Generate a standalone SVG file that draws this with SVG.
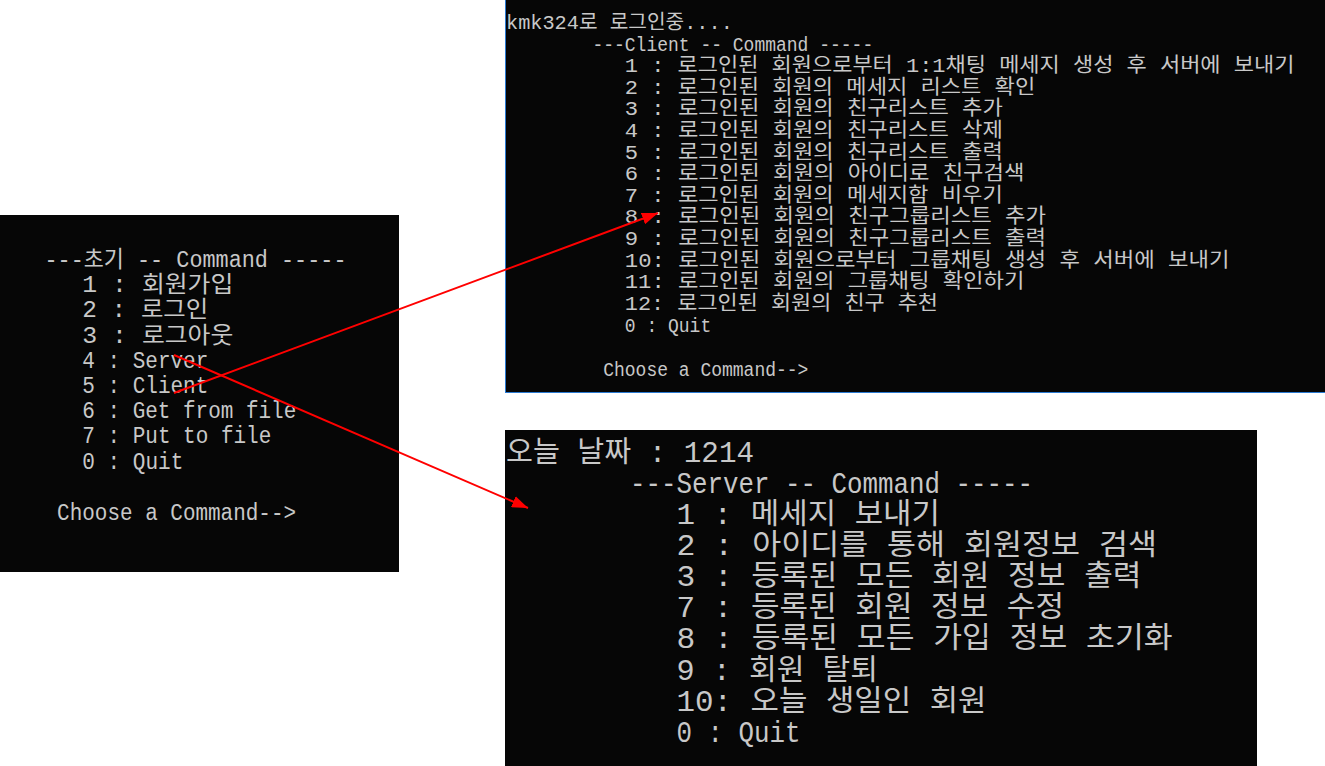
<svg xmlns="http://www.w3.org/2000/svg" width="1325" height="766" viewBox="0 0 1325 766">
  <style>
    .panel { fill: #060606; }
    .t { font-family: "Liberation Mono", "Noto Sans CJK KR", monospace; fill: #c8c8c8; }
    .s1 { font-size: 23px; }
    .s2 { font-size: 20px; }
    .s3 { font-size: 29px; }
    .conn { stroke: #ff0000; stroke-width: 2; fill: none; }
  </style>
  <defs>
    <marker id="ah" viewBox="0 0 16 12" refX="16" refY="6" markerWidth="16" markerHeight="12" markerUnits="userSpaceOnUse" orient="auto">
      <path d="M0,0 L16,6 L0,12 z" fill="#ff0000"/>
    </marker>
  </defs>
  <rect x="0" y="0" width="1325" height="766" fill="#ffffff"/>

  <g id="main-menu">
    <rect class="panel" x="0" y="215" width="399" height="357"/>
    <g class="t s1">
      <text x="44.5" y="267" textLength="302" lengthAdjust="spacingAndGlyphs">---초기 -- Command -----</text>
      <text x="82.3" y="292" textLength="151" lengthAdjust="spacingAndGlyphs">1 : 회원가입</text>
      <text x="82.3" y="317" textLength="126" lengthAdjust="spacingAndGlyphs">2 : 로그인</text>
      <text x="82.3" y="343" textLength="151" lengthAdjust="spacingAndGlyphs">3 : 로그아웃</text>
      <text x="82.3" y="368" textLength="126" lengthAdjust="spacingAndGlyphs">4 : Server</text>
      <text x="82.3" y="393" textLength="126" lengthAdjust="spacingAndGlyphs">5 : Client</text>
      <text x="82.3" y="418" textLength="214" lengthAdjust="spacingAndGlyphs">6 : Get from file</text>
      <text x="82.3" y="443" textLength="189" lengthAdjust="spacingAndGlyphs">7 : Put to file</text>
      <text x="82.3" y="469" textLength="101" lengthAdjust="spacingAndGlyphs">0 : Quit</text>
      <text x="57.1" y="520" textLength="239" lengthAdjust="spacingAndGlyphs">Choose a Command--&gt;</text>
    </g>
  </g>

  <g id="client-menu">
    <rect x="505.5" y="-1" width="821" height="393.5" fill="#060606" stroke="#2a7ad2" stroke-width="1"/>
    <g class="t s2">
      <text x="506" y="29" textLength="226.8" lengthAdjust="spacingAndGlyphs">kmk324로 로그인중....</text>
      <text x="592.4" y="50.6" textLength="280.8" lengthAdjust="spacingAndGlyphs">---Client -- Command -----</text>
      <text x="624.8" y="72.2" textLength="669.6" lengthAdjust="spacingAndGlyphs">1 : 로그인된 회원으로부터 1:1채팅 메세지 생성 후 서버에 보내기</text>
      <text x="624.8" y="93.8" textLength="410.4" lengthAdjust="spacingAndGlyphs">2 : 로그인된 회원의 메세지 리스트 확인</text>
      <text x="624.8" y="115.4" textLength="378" lengthAdjust="spacingAndGlyphs">3 : 로그인된 회원의 친구리스트 추가</text>
      <text x="624.8" y="137" textLength="378" lengthAdjust="spacingAndGlyphs">4 : 로그인된 회원의 친구리스트 삭제</text>
      <text x="624.8" y="158.6" textLength="378" lengthAdjust="spacingAndGlyphs">5 : 로그인된 회원의 친구리스트 출력</text>
      <text x="624.8" y="180.2" textLength="399.6" lengthAdjust="spacingAndGlyphs">6 : 로그인된 회원의 아이디로 친구검색</text>
      <text x="624.8" y="201.8" textLength="378" lengthAdjust="spacingAndGlyphs">7 : 로그인된 회원의 메세지함 비우기</text>
      <text x="624.8" y="223.4" textLength="421.2" lengthAdjust="spacingAndGlyphs">8 : 로그인된 회원의 친구그룹리스트 추가</text>
      <text x="624.8" y="245" textLength="421.2" lengthAdjust="spacingAndGlyphs">9 : 로그인된 회원의 친구그룹리스트 출력</text>
      <text x="624.8" y="266.6" textLength="604.8" lengthAdjust="spacingAndGlyphs">10: 로그인된 회원으로부터 그룹채팅 생성 후 서버에 보내기</text>
      <text x="624.8" y="288.2" textLength="399.6" lengthAdjust="spacingAndGlyphs">11: 로그인된 회원의 그룹채팅 확인하기</text>
      <text x="624.8" y="309.8" textLength="313.2" lengthAdjust="spacingAndGlyphs">12: 로그인된 회원의 친구 추천</text>
      <text x="624.8" y="331.8" textLength="86.4" lengthAdjust="spacingAndGlyphs">0 : Quit</text>
      <text x="603.2" y="375.5" textLength="205.2" lengthAdjust="spacingAndGlyphs">Choose a Command--&gt;</text>
    </g>
  </g>

  <g id="server-menu">
    <rect class="panel" x="505" y="430" width="752" height="336"/>
    <g class="t s3">
      <text x="506" y="461.5" textLength="248" lengthAdjust="spacingAndGlyphs">오늘 날짜 : 1214</text>
      <text x="630" y="492.5" textLength="403" lengthAdjust="spacingAndGlyphs">---Server -- Command -----</text>
      <text x="676.5" y="523.7" textLength="263.5" lengthAdjust="spacingAndGlyphs">1 : 메세지 보내기</text>
      <text x="676.5" y="554.9" textLength="480.5" lengthAdjust="spacingAndGlyphs">2 : 아이디를 통해 회원정보 검색</text>
      <text x="676.5" y="586" textLength="465" lengthAdjust="spacingAndGlyphs">3 : 등록된 모든 회원 정보 출력</text>
      <text x="676.5" y="617.2" textLength="387.5" lengthAdjust="spacingAndGlyphs">7 : 등록된 회원 정보 수정</text>
      <text x="676.5" y="648.4" textLength="496" lengthAdjust="spacingAndGlyphs">8 : 등록된 모든 가입 정보 초기화</text>
      <text x="676.5" y="679.6" textLength="201.5" lengthAdjust="spacingAndGlyphs">9 : 회원 탈퇴</text>
      <text x="676.5" y="710.8" textLength="310" lengthAdjust="spacingAndGlyphs">10: 오늘 생일인 회원</text>
      <text x="676.5" y="742" textLength="124" lengthAdjust="spacingAndGlyphs">0 : Quit</text>
    </g>
  </g>

  <g id="connectors">
    <line class="conn" x1="174" y1="393" x2="658" y2="213" marker-end="url(#ah)"/>
    <line class="conn" x1="174" y1="355" x2="528" y2="508" marker-end="url(#ah)"/>
  </g>
</svg>
